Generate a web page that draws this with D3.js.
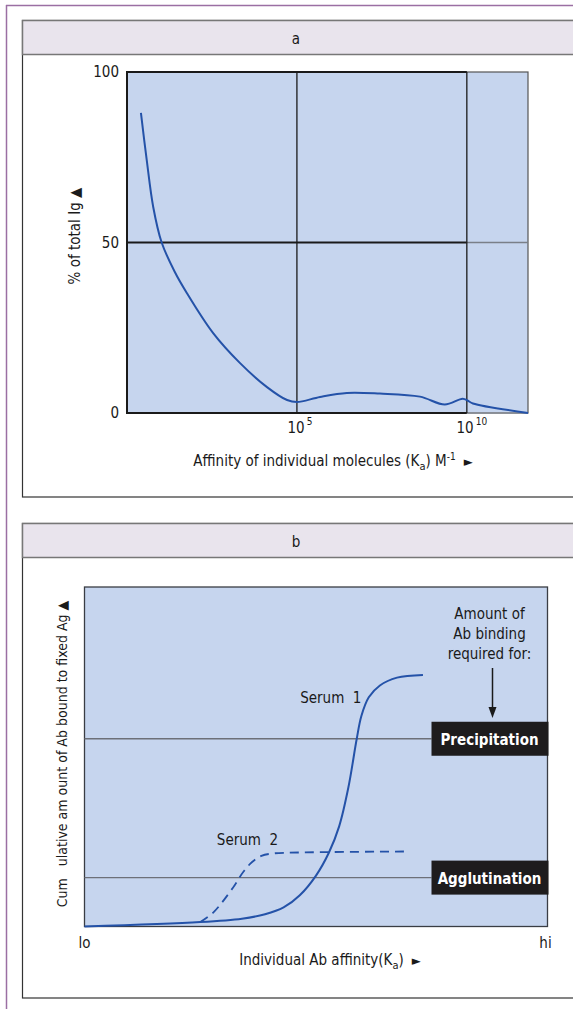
<!DOCTYPE html>
<html lang="en">
<head>
<meta charset="UTF-8">
<title>Antibody affinity</title>
<style>
  body { margin: 0; background: #fff; }
  svg { display: block; }
  text { font-family: "Liberation Sans Narrow", "DejaVu Sans Condensed", "Roboto", sans-serif; fill: #1a1a1a; }
</style>
</head>
<body>
<svg width="573" height="1009"></svg>
<script src="https://d3js.org/d3.v7.min.js"></script>
<script>
// panel a: distribution of affinities (log10 Ka, % of total Ig)
const logKa = [0.41, 0.58, 0.77, 1.02, 1.4, 1.76, 2.53, 3.32, 4.12, 4.71, 5.0, 5.68, 6.47, 7.44, 8.62, 9.35, 9.88, 10.03, 10.18, 11.8];
const pctIg = [88, 74.2, 60.5, 50, 41.5, 35.2, 23.5, 14.7, 7.6, 3.8, 3.2, 4.7, 5.9, 5.7, 4.8, 2.5, 4.2, 3.6, 2.8, 0];
const xTicksA = [5, 10];
const yTicksA = [0, 50, 100];

// panel b: cumulative binding curves (affinity lo..hi as 0..100)
const serum1X = [0, 25, 34, 39, 43, 46.5, 50.0, 52.8, 55.0, 57.0, 58.8, 59.8, 61.4, 63.8, 67.5, 73.1];
const serum1Y = [0, 1.3, 2.3, 3.6, 5.6, 9.2, 15.0, 21.8, 29.5, 41.0, 55.3, 62, 67.5, 71.0, 73.3, 74.1];
const serum2X = [25, 27.8, 32.1, 34.2, 36.2, 38.2, 40.6, 46.6, 69.2];
const serum2Y = [1.3, 4.1, 11.5, 15.9, 19.0, 20.8, 21.5, 21.8, 22.1];
const thresholdNames = ["Precipitation", "Agglutination"];
const thresholdLevels = [55.3, 14.4];

const svg = d3.select("svg");
const blue = "#2452a8";
const plotFill = "#c6d5ee";
const bandFill = "#e9e4ed";

// outer frame
svg.append("line").attr("x1", 6.5).attr("x2", 6.5).attr("y1", 5).attr("y2", 1009)
  .attr("stroke", "#9b6fa3").attr("stroke-width", 1.5);
svg.append("line").attr("x1", 6).attr("x2", 573).attr("y1", 5.5).attr("y2", 5.5)
  .attr("stroke", "#9b6fa3").attr("stroke-width", 1.5);

function panel(y0, y1, title) {
  svg.append("rect").attr("x", 22.5).attr("y", y0).attr("width", 600).attr("height", y1 - y0)
    .attr("fill", "#fff").attr("stroke", "#333").attr("stroke-width", 1.2);
  svg.append("rect").attr("x", 22.5).attr("y", y0).attr("width", 600).attr("height", 34)
    .attr("fill", bandFill).attr("stroke", "#777").attr("stroke-width", 1.5);
  svg.append("text").attr("x", 296).attr("y", y0 + 23).attr("text-anchor", "middle")
    .style("font-size", "15px").text(title);
}
panel(20.5, 497, "a");
panel(523.5, 998, "b");

// ---------- panel a ----------
const xA = d3.scaleLog().domain([1, Math.pow(10, 11.8)]).range([127, 528]);
const yA = d3.scaleLinear().domain([0, 100]).range([413, 72]);
const gA = svg.append("g");

gA.append("rect").attr("x", xA.range()[0]).attr("y", yA(100))
  .attr("width", xA.range()[1] - xA.range()[0]).attr("height", yA(0) - yA(100))
  .attr("fill", plotFill).attr("stroke", "#555").attr("stroke-width", 1.2);

const x10 = xA(Math.pow(10, 10));
// dark frame up to 10^10, lighter beyond
gA.append("path")
  .attr("d", `M${x10},${yA(100)}H${xA.range()[0]}V${yA(0)}H${x10}`)
  .attr("fill", "none").attr("stroke", "#1a1a1a").attr("stroke-width", 2);
gA.append("line").attr("x1", xA.range()[0]).attr("x2", x10).attr("y1", yA(50)).attr("y2", yA(50))
  .attr("stroke", "#1a1a1a").attr("stroke-width", 2);
gA.append("line").attr("x1", x10).attr("x2", xA.range()[1]).attr("y1", yA(50)).attr("y2", yA(50))
  .attr("stroke", "#7a7f88").attr("stroke-width", 1.5);
gA.append("line").attr("x1", x10).attr("x2", xA.range()[1]).attr("y1", yA(0)).attr("y2", yA(0))
  .attr("stroke", "#8a8f98").attr("stroke-width", 1.5);
xTicksA.forEach(e => {
  gA.append("line").attr("x1", xA(Math.pow(10, e))).attr("x2", xA(Math.pow(10, e)))
    .attr("y1", yA(100)).attr("y2", yA(0)).attr("stroke", "#1a1a1a").attr("stroke-width", 1.3);
});

const lineA = d3.line()
  .x((d, i) => xA(Math.pow(10, logKa[i])))
  .y(d => yA(d))
  .curve(d3.curveCatmullRom.alpha(0.5));
gA.append("path").datum(pctIg).attr("d", lineA)
  .attr("fill", "none").attr("stroke", blue).attr("stroke-width", 2);

yTicksA.forEach(v => {
  gA.append("text").attr("x", 119).attr("y", yA(v) + 5).attr("text-anchor", "end")
    .style("font-size", "15px").text(v);
});
xTicksA.forEach(e => {
  const t = gA.append("text").attr("x", xA(Math.pow(10, e)) + (e < 10 ? 3 : 5)).attr("y", 433)
    .attr("text-anchor", "middle").style("font-size", "15px");
  t.append("tspan").text("10");
  t.append("tspan").attr("dx", 2).attr("dy", -8).style("font-size", "10px").text(e);
});

const xlabA = gA.append("text").attr("x", 333).attr("y", 466).attr("text-anchor", "middle")
  .style("font-size", "15px");
xlabA.append("tspan").text("Affinity of individual molecules (K");
xlabA.append("tspan").attr("dy", 4).style("font-size", "11px").text("a");
xlabA.append("tspan").attr("dy", -4).text(") M");
xlabA.append("tspan").attr("dy", -6).style("font-size", "10px").text("-1");
xlabA.append("tspan").attr("dy", 6).attr("dx", 8).style("font-size", "13px").text("\u25BA");

gA.append("text").attr("transform", "translate(80,236) rotate(-90)").attr("text-anchor", "middle")
  .style("font-size", "15px").text("% of total Ig \u25B2");

// ---------- panel b ----------
const xB = d3.scaleLinear().domain([0, 100]).range([84.5, 547.5]);
const yB = d3.scaleLinear().domain([0, 100]).range([926.5, 587]);
const gB = svg.append("g");

gB.append("rect").attr("x", xB(0)).attr("y", yB(100))
  .attr("width", xB(100) - xB(0)).attr("height", yB(0) - yB(100))
  .attr("fill", plotFill).attr("stroke", "#3a3d44").attr("stroke-width", 1.3);

const boxW = 116, boxH = 34;
thresholdLevels.forEach((v, i) => {
  gB.append("line").attr("x1", xB(0)).attr("x2", xB(100) - boxW).attr("y1", yB(v)).attr("y2", yB(v))
    .attr("stroke", "#6d7078").attr("stroke-width", 1.3);
  gB.append("rect").attr("x", xB(100) - boxW).attr("y", yB(v) - boxH / 2)
    .attr("width", boxW + 1).attr("height", boxH).attr("fill", "#1e1c1d");
  gB.append("text").attr("x", xB(100) - boxW / 2).attr("y", yB(v) + 6)
    .attr("text-anchor", "middle").style("font-size", "15px").style("font-weight", "bold")
    .style("fill", "#fff").text(thresholdNames[i]);
});

const lineB = d3.line().x(d => xB(d[0])).y(d => yB(d[1])).curve(d3.curveCatmullRom.alpha(0.5));
gB.append("path").datum(d3.zip(serum2X, serum2Y)).attr("d", lineB)
  .attr("fill", "none").attr("stroke", blue).attr("stroke-width", 1.8)
  .attr("stroke-dasharray", "9,6");
gB.append("path").datum(d3.zip(serum1X, serum1Y)).attr("d", lineB)
  .attr("fill", "none").attr("stroke", blue).attr("stroke-width", 2);

gB.append("text").attr("x", xB(53.2)).attr("y", yB(67.4) + 5).attr("text-anchor", "middle")
  .style("font-size", "15px").style("white-space", "pre").text("Serum  1");
gB.append("text").attr("x", xB(35.2)).attr("y", yB(25.6) + 5).attr("text-anchor", "middle")
  .style("font-size", "15px").style("white-space", "pre").text("Serum  2");

const noteX = xB(100) - boxW / 2;
["Amount of", "Ab binding", "required for:"].forEach((s, i) => {
  gB.append("text").attr("x", noteX).attr("y", 619 + i * 20).attr("text-anchor", "middle")
    .style("font-size", "15px").text(s);
});
gB.append("line").attr("x1", noteX + 3).attr("x2", noteX + 3).attr("y1", 668).attr("y2", 708)
  .attr("stroke", "#1a1a1a").attr("stroke-width", 1.5);
gB.append("path").attr("d", `M${noteX - 1},707L${noteX + 7},707L${noteX + 3},718Z`).attr("fill", "#1a1a1a");

gB.append("text").attr("x", xB(0)).attr("y", 948).attr("text-anchor", "middle")
  .style("font-size", "15px").text("lo");
gB.append("text").attr("x", xB(100) - 2).attr("y", 948).attr("text-anchor", "middle")
  .style("font-size", "15px").text("hi");

const xlabB = gB.append("text").attr("x", 330).attr("y", 965).attr("text-anchor", "middle")
  .style("font-size", "15px");
xlabB.append("tspan").text("Individual Ab affinity(K");
xlabB.append("tspan").attr("dy", 4).style("font-size", "11px").text("a");
xlabB.append("tspan").attr("dy", -4).text(")");
xlabB.append("tspan").attr("dx", 8).style("font-size", "13px").text("\u25BA");

gB.append("text").attr("transform", "translate(67,754) rotate(-90)").attr("text-anchor", "middle")
  .style("font-size", "14px").style("white-space", "pre")
  .text("Cum   ulative am ount of Ab bound to fixed Ag \u25B2");
</script>
</body>
</html>
